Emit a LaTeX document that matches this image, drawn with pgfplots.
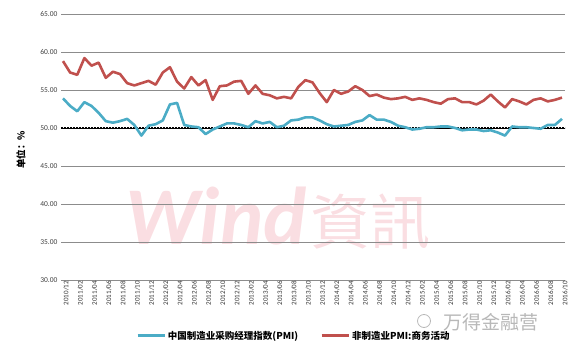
\documentclass[border=0pt]{standalone}
\usepackage{fontspec}
\setmainfont{Carlito}
\newfontfamily\cjk{Noto Sans CJK SC}
\usepackage{pgfplots}
\pgfplotsset{compat=1.18}
\usepackage{pgfplotstable}

\definecolor{pmiA}{RGB}{75,172,198}
\definecolor{pmiB}{RGB}{192,80,77}
\definecolor{wmark}{RGB}{250,222,226}

\pgfplotstableread{
i a b
0 53.9 58.8
1 52.9 57.3
2 52.2 57.0
3 53.4 59.2
4 52.9 58.2
5 52.0 58.6
6 50.9 56.6
7 50.7 57.4
8 50.9 57.1
9 51.2 55.9
10 50.4 55.6
11 49.0 55.9
12 50.3 56.2
13 50.5 55.7
14 51.0 57.3
15 53.1 58.0
16 53.3 56.1
17 50.4 55.2
18 50.2 56.7
19 50.1 55.6
20 49.2 56.3
21 49.8 53.7
22 50.2 55.5
23 50.6 55.6
24 50.6 56.1
25 50.4 56.2
26 50.1 54.5
27 50.9 55.6
28 50.6 54.5
29 50.8 54.3
30 50.1 53.9
31 50.3 54.1
32 51.0 53.9
33 51.1 55.4
34 51.4 56.3
35 51.4 56.0
36 51.0 54.6
37 50.5 53.4
38 50.2 55.0
39 50.3 54.5
40 50.4 54.8
41 50.8 55.5
42 51.0 55.0
43 51.7 54.2
44 51.1 54.4
45 51.1 54.0
46 50.8 53.8
47 50.3 53.9
48 50.1 54.1
49 49.8 53.7
50 49.9 53.9
51 50.1 53.7
52 50.1 53.4
53 50.2 53.2
54 50.2 53.8
55 50.0 53.9
56 49.7 53.4
57 49.8 53.4
58 49.8 53.1
59 49.6 53.6
60 49.7 54.4
61 49.4 53.5
62 49.0 52.7
63 50.2 53.8
64 50.1 53.5
65 50.1 53.1
66 50.0 53.7
67 49.9 53.9
68 50.4 53.5
69 50.4 53.7
70 51.2 54.0
}\data

\begin{document}
\begin{tikzpicture}[x=1pt,y=1pt]
\path (0,0) rectangle (580,350);
% watermarks
\node[text=wmark, font=\fontsize{82}{82}\selectfont\bfseries\itshape, anchor=base, inner sep=0pt] at (216,105) {Wind};
\node[text=wmark, font=\cjk\fontsize{60}{60}\selectfont, anchor=base, inner sep=0pt] at (370,105) {資訊};
\node[text=black!28, font=\cjk\fontsize{19}{19}\selectfont, anchor=west] at (440,28) {万得金融营};
\draw[black!28, line width=0.8pt] (424,29) circle (6.5);
% y label
\node[rotate=90, font=\cjk\bfseries\fontsize{9.5}{9.5}\selectfont] at (21,200) {单位：\%};
\begin{axis}[
  at={(61pt,70pt)}, anchor=south west, scale only axis,
  width=504pt, height=266pt,
  xmin=-0.28, xmax=70.42, ymin=30, ymax=65,
  ytick={30,35,...,65},
  ymajorgrids, grid style={black!45, line width=0.8pt},
  axis line style={draw=none},
  major tick length=0,
  xtick={0,2,...,70},
  xticklabels={2010/12,2011/02,2011/04,2011/06,2011/08,2011/10,2011/12,2012/02,2012/04,2012/06,2012/08,2012/10,2012/12,2013/02,2013/04,2013/06,2013/08,2013/10,2013/12,2014/02,2014/04,2014/06,2014/08,2014/10,2014/12,2015/02,2015/04,2015/06,2015/08,2015/10,2015/12,2016/02,2016/04,2016/06,2016/08,2016/10},
  xticklabel style={rotate=90, anchor=east, font=\fontsize{7}{7}\selectfont, text=black!80, inner sep=1pt, yshift=-3pt},
  yticklabel style={font=\fontsize{7.5}{7.5}\selectfont, text=black!75, /pgf/number format/.cd, fixed, fixed zerofill, precision=2},
  /pgf/number format/assume math mode=true,
  legend columns=2,
  legend style={at={(0.462,-0.21)}, anchor=center, draw=none, fill=none,
    font=\cjk\bfseries\fontsize{9.5}{10}\selectfont,
    /tikz/every even column/.append style={column sep=20pt}},
  legend image code/.code={\draw[#1, line width=2.8pt] (0pt,0pt) -- (27pt,0pt);},
]
\addplot[forget plot, black, line width=0.6pt] coordinates {(-0.28,50) (70.42,50)};
\addplot[forget plot, black, line width=1.8pt, dash pattern=on 1.8pt off 1.2pt] coordinates {(-0.28,50) (70.42,50)};
\addplot[pmiA, line width=2.6pt, line join=round] table[x=i, y=a] {\data};
\addplot[pmiB, line width=2.6pt, line join=round] table[x=i, y=b] {\data};
\legend{中国制造业采购经理指数(PMI), 非制造业PMI:商务活动}
\end{axis}
\end{tikzpicture}
\end{document}
